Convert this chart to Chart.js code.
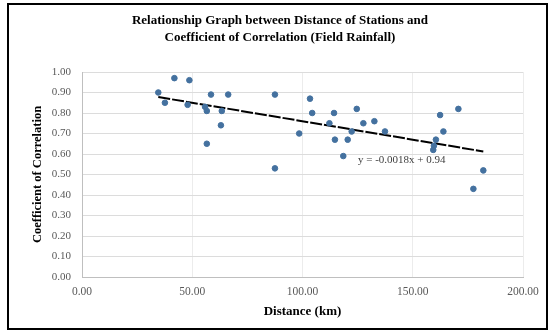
<!DOCTYPE html>
<html>
<head>
<meta charset="utf-8">
<script src="https://cdn.jsdelivr.net/npm/chart.js@4/dist/chart.umd.min.js"></script>
<style>
  html, body { margin: 0; padding: 0; background: #fff; }
  #wrap { position: relative; width: 551px; height: 333px; }
  #frame { position: absolute; left: 7px; top: 3px; width: 537px; height: 323px; border: 2px solid #000; pointer-events: none; }
</style>
</head>
<body>
<div id="wrap">
  <canvas id="myChart" width="551" height="333"></canvas>
  <div id="frame"></div>
</div>
<script>
// distance between stations (km) and correlation coefficient
const distances = [34.6, 37.6, 41.9, 48.7, 47.9, 58.5, 66.3, 55.8, 56.6, 63.4, 63.0, 56.6,
  87.5, 87.5, 98.5, 103.4, 104.4, 114.3, 112.2, 114.7, 120.5, 118.5, 124.6, 127.6,
  132.6, 122.3, 137.4, 162.4, 170.7, 163.9, 160.5, 159.6, 159.3, 182.0, 177.5];
const correlations = [0.90, 0.85, 0.97, 0.96, 0.84, 0.89, 0.89, 0.83, 0.81, 0.81, 0.74, 0.65,
  0.89, 0.53, 0.70, 0.87, 0.80, 0.80, 0.75, 0.67, 0.67, 0.59, 0.82, 0.75,
  0.76, 0.71, 0.71, 0.79, 0.82, 0.71, 0.67, 0.64, 0.62, 0.52, 0.43];
const xTicks = [0, 50, 100, 150, 200];
const yTicks = [0, 0.1, 0.2, 0.3, 0.4, 0.5, 0.6, 0.7, 0.8, 0.9, 1.0];

// linear trendline, as shown in the equation label
const trendSlope = -0.0018;
const trendIntercept = 0.94;
const trendLabel = 'y = -0.0018x + 0.94';

const points = distances.map((d, i) => ({ x: d, y: correlations[i] }));
const xMin = Math.min(...distances);
const xMax = Math.max(...distances);
const trendPoints = [xMin, xMax].map(x => ({ x: x, y: trendSlope * x + trendIntercept }));

// draw the equation text next to the trendline
const equationPlugin = {
  id: 'equation',
  afterDatasetsDraw(chart) {
    const ctx = chart.ctx;
    const xs = chart.scales.x;
    const ys = chart.scales.y;
    ctx.save();
    ctx.font = '11px "Liberation Serif", serif';
    ctx.fillStyle = '#404040';
    ctx.textAlign = 'center';
    ctx.textBaseline = 'middle';
    ctx.fillText(trendLabel, xs.getPixelForValue(145), ys.getPixelForValue(0.57));
    ctx.restore();
  }
};

const ctx = document.getElementById('myChart').getContext('2d');

// eslint-disable-next-line no-undef
const chart = new Chart(ctx, {
  type: 'scatter',
  data: {
    datasets: [{
      label: 'Correlation',
      data: points,
      backgroundColor: '#44719f',
      borderColor: '#44719f',
      pointRadius: 2.8,
      pointHoverRadius: 2.8,
    },
    {
      label: 'Linear',
      type: 'line',
      data: trendPoints,
      borderColor: '#000',
      borderWidth: 2,
      borderDash: [12, 2],
      pointRadius: 0,
      fill: false,
    }]
  },
  options: {
    responsive: false,
    animation: false,
    layout: { padding: { left: 9, right: 0, top: 0, bottom: 0 } },
    plugins: {
      legend: { display: false },
      tooltip: { enabled: false },
      title: {
        display: true,
        text: ['Relationship Graph between Distance of Stations and', 'Coefficient of Correlation (Field Rainfall)'],
        color: '#000',
        font: { family: '"Liberation Serif", serif', size: 13, weight: 'bold', lineHeight: 1.3 },
        padding: { top: 12, bottom: 26.2 },
      },
    },
    scales: {
      x: {
        type: 'linear',
        min: 0,
        max: 200,
        afterBuildTicks: s => { s.ticks = xTicks.map(v => ({ value: v })); },
        afterFit: s => { s.height = 56; },
        ticks: {
          padding: 8,
          color: '#595959',
          font: { family: '"Liberation Serif", serif', size: 11.5 },
          callback: v => v.toFixed(2),
        },
        grid: { color: '#ececec', drawTicks: false },
        border: { color: '#bfbfbf' },
        title: {
          display: true,
          text: 'Distance (km)',
          color: '#000',
          font: { family: '"Liberation Serif", serif', size: 13, weight: 'bold' },
          padding: { top: 0, bottom: 13.2 },
        },
      },
      y: {
        min: 0,
        max: 1,
        afterBuildTicks: s => { s.ticks = yTicks.map(v => ({ value: v })); },
        afterFit: s => { s.width = 73; },
        ticks: {
          padding: 11,
          color: '#595959',
          font: { family: '"Liberation Serif", serif', size: 11 },
          callback: v => v.toFixed(2),
        },
        grid: { color: '#dcdcdc', drawTicks: false },
        border: { color: '#bfbfbf' },
        title: {
          display: true,
          text: 'Coefficient of Correlation',
          color: '#000',
          font: { family: '"Liberation Serif", serif', size: 12.5, weight: 'bold' },
          padding: { top: 21.5, bottom: 0 },
        },
      },
      // empty right axis, keeps the plot off the right edge
      y2: {
        position: 'right',
        display: true,
        afterFit: s => { s.width = 28; },
        ticks: { display: false },
        grid: { display: false, drawTicks: false },
        border: { display: false },
      },
    },
  },
  plugins: [equationPlugin],
});
</script>
</body>
</html>
